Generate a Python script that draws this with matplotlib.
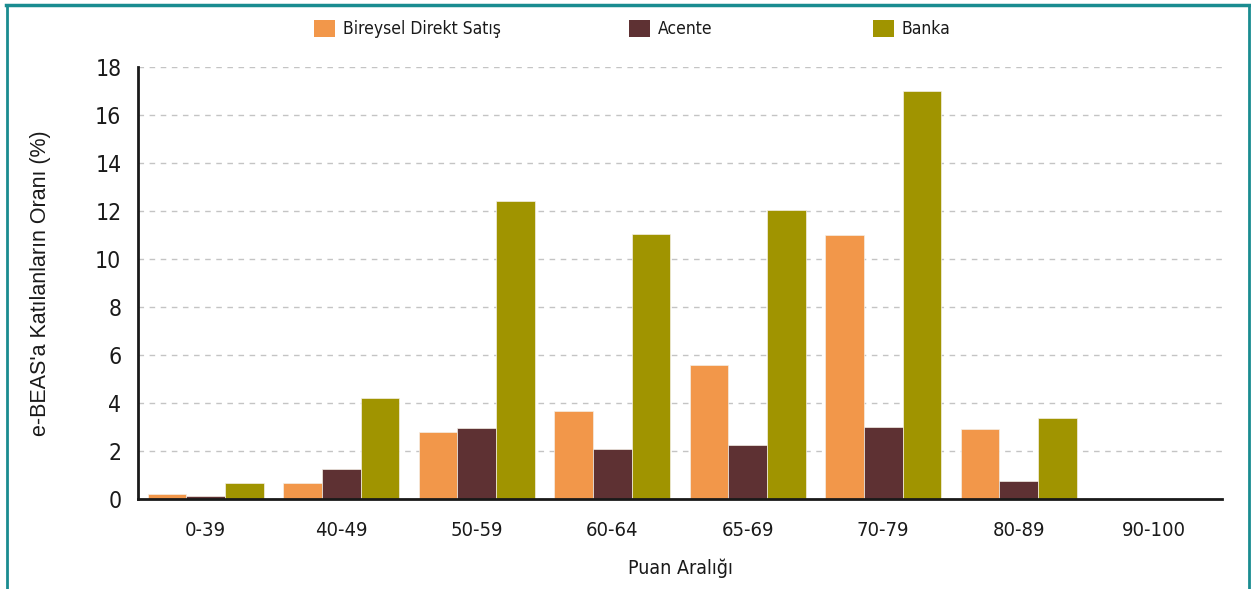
import matplotlib
matplotlib.use("Agg")
import matplotlib.pyplot as plt
import numpy as np
from matplotlib.patches import Patch
from matplotlib.lines import Line2D

categories = ["0-39", "40-49", "50-59", "60-64", "65-69", "70-79", "80-89", "90-100"]
series_names = ["Bireysel Direkt Satış", "Acente", "Banka"]
bireysel = [0.2, 0.67, 2.8, 3.67, 5.58, 11.0, 2.92, 0.0]
acente = [0.13, 1.25, 2.95, 2.08, 2.25, 3.0, 0.75, 0.0]
banka = [0.67, 4.2, 12.4, 11.04, 12.04, 17.0, 3.38, 0.0]
colors = ["#F2974A", "#5E3133", "#A09400"]
yticks = [0, 2, 4, 6, 8, 10, 12, 14, 16, 18]

W, H = 1251, 589
fig = plt.figure(figsize=(W / 100, H / 100), dpi=100)
ax = fig.add_axes([138 / W, 90 / H, 1084 / W, 432 / H])

fam = "DejaVu Sans"
label_font = "Liberation Sans"

x = np.arange(len(categories))
bw = 0.285
for i, (vals, c) in enumerate(zip([bireysel, acente, banka], colors)):
    ax.bar(x + (i - 1) * bw, vals, width=bw, color=c, edgecolor="#F4EFE6",
           linewidth=0.5, zorder=3)

ax.set_xlim(-0.5, len(categories) - 0.5)
ax.set_ylim(0, 18)
ax.set_yticks(yticks)
ax.set_xticks(x)
ax.set_xticklabels(categories)
for lab in ax.get_xticklabels():
    lab.set_fontfamily(fam); lab.set_fontstretch("condensed"); lab.set_fontsize(14.5)
    lab.set_color("#1a1a1a")
for lab in ax.get_yticklabels():
    lab.set_fontfamily(fam); lab.set_fontstretch("condensed"); lab.set_fontsize(16.5)
    lab.set_color("#1a1a1a")
ax.tick_params(axis="both", length=0)
ax.tick_params(axis="y", pad=12)
ax.tick_params(axis="x", pad=15.5)

ax.yaxis.grid(True, color="#C4C4C4", linestyle=(0, (4, 4)), linewidth=1.0, zorder=0)
ax.set_axisbelow(True)
for s in ["top", "right"]:
    ax.spines[s].set_visible(False)
for s in ["left", "bottom"]:
    ax.spines[s].set_color("#1a1a1a")
    ax.spines[s].set_linewidth(2.0)
    ax.spines[s].set_zorder(4)

ax.set_ylabel("e-BEAS'a Katılanların Oranı (%)", fontfamily=label_font, fontsize=15.5,
              color="#1a1a1a")
ax.yaxis.set_label_coords(-(138 - 51) / 1084, 0.5)
ax.set_xlabel("Puan Aralığı", fontfamily=fam, fontstretch="condensed",
              fontsize=14, color="#1a1a1a")
ax.xaxis.set_label_coords(0.5, -(558 - 499) / 432)

# legend entries
patch_x = [314, 629, 873]
for name, c, px in zip(series_names, colors, patch_x):
    leg = fig.legend(handles=[Patch(facecolor=c, edgecolor="none")], labels=[name],
                     loc="center left", bbox_to_anchor=(px / W, 1 - 29 / H),
                     frameon=False, borderpad=0, borderaxespad=0,
                     handlelength=1.2, handleheight=1.2, handletextpad=0.45,
                     prop=dict(family=fam, stretch="condensed", size=12.5))
    for t in leg.get_texts():
        t.set_color("#1a1a1a")

# teal frame (top, left, right)
frame_c = "#1A8C90"
fig.add_artist(Line2D([7 / W, 7 / W], [0, 1 - 5 / H], transform=fig.transFigure, color=frame_c, lw=2))
fig.add_artist(Line2D([1249 / W, 1249 / W], [0, 1 - 5 / H], transform=fig.transFigure, color=frame_c, lw=2))
fig.add_artist(Line2D([6 / W, 1250 / W], [1 - 5 / H, 1 - 5 / H], transform=fig.transFigure, color=frame_c, lw=2.5))

fig.savefig("out.png", dpi=100, facecolor="white")
